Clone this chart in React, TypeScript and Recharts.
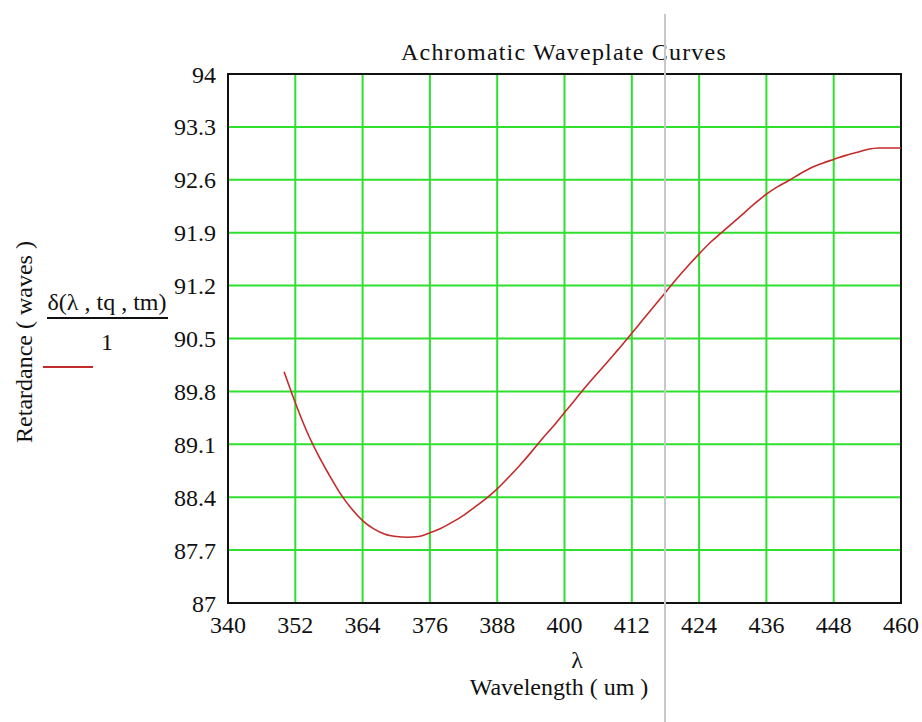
import { CartesianGrid, Line, LineChart, ReferenceArea, XAxis, YAxis } from 'recharts';

const wavelengths = [
  350, 352, 354, 356, 358, 360, 362, 364, 366, 368, 370, 372, 374, 376, 378, 380, 382, 384, 386, 388,
  390, 392, 394, 396, 398, 400, 402, 404, 406, 408, 410, 412, 414, 416, 418, 420, 422, 424, 426, 428,
  430, 432, 434, 436, 438, 440, 442, 444, 446, 448, 450, 452, 454, 456, 458, 460,
];
const retardance = [
  90.06, 89.65, 89.28, 88.97, 88.7, 88.45, 88.25, 88.09, 87.98, 87.91, 87.88, 87.87, 87.88, 87.93, 87.99,
  88.07, 88.16, 88.27, 88.38, 88.51, 88.66, 88.82, 88.99, 89.17, 89.34, 89.52, 89.7, 89.88, 90.05, 90.22,
  90.39, 90.57, 90.75, 90.93, 91.11, 91.29, 91.46, 91.62, 91.77, 91.9, 92.03, 92.16, 92.29, 92.41, 92.51,
  92.59, 92.68, 92.76, 92.82, 92.87, 92.92, 92.96, 93.0, 93.02, 93.02, 93.02,
];
const xTicks = [340, 352, 364, 376, 388, 400, 412, 424, 436, 448, 460];
const yTicks = [87, 87.7, 88.4, 89.1, 89.8, 90.5, 91.2, 91.9, 92.6, 93.3, 94];

const data = wavelengths.map((w, i) => ({ w, r: retardance[i] }));

const font = '"Liberation Serif", "Times New Roman", serif';
const green = '#2fe02f';

export default function App() {
  return (
    <div style={{ position: 'absolute', left: 0, top: 0, width: 922, height: 722, background: '#fff' }}>
      <LineChart width={922} height={722} data={data} margin={{ top: 74, right: 21, bottom: 69, left: 168 }}>
        <CartesianGrid stroke={green} strokeWidth={2} />
        <XAxis
          dataKey="w"
          type="number"
          domain={[340, 460]}
          ticks={xTicks}
          height={50}
          axisLine={false}
          tickLine={false}
          tickSize={0}
          tickMargin={13}
          tick={{ fill: '#111', fontSize: 24, fontFamily: font }}
        />
        <YAxis
          type="number"
          domain={[87, 94]}
          ticks={yTicks}
          width={60}
          axisLine={false}
          tickLine={false}
          tickSize={0}
          tickMargin={12}
          tick={{ fill: '#111', fontSize: 24, fontFamily: font }}
        />
        <ReferenceArea x1={340} x2={460} y1={87} y2={94} fill="none" stroke="#111" strokeWidth={2} />
        <Line
          type="monotone"
          dataKey="r"
          stroke="#c42b2b"
          strokeWidth={1.6}
          dot={false}
          isAnimationActive={false}
        />
      </LineChart>
      <svg
        width={922}
        height={722}
        style={{ position: 'absolute', left: 0, top: 0, pointerEvents: 'none' }}
        fontFamily={font}
        fill="#111"
      >
        <text x={564} y={60} fontSize={24} letterSpacing={1.2} textAnchor="middle">
          Achromatic Waveplate Curves
        </text>
        <text transform="translate(32,342) rotate(-90)" fontSize={24} textAnchor="middle">
          Retardance ( waves )
        </text>
        <text x={107} y={310} fontSize={24} textAnchor="middle">
          δ(λ , tq , tm)
        </text>
        <line x1={47} x2={168} y1={318} y2={318} stroke="#111" strokeWidth={2} />
        <text x={107} y={350} fontSize={24} textAnchor="middle">
          1
        </text>
        <line x1={43} x2={93} y1={367} y2={367} stroke="#c42b2b" strokeWidth={2} />
        <text x={577} y={668} fontSize={24} textAnchor="middle">
          λ
        </text>
        <text x={559} y={695} fontSize={24} textAnchor="middle">
          Wavelength ( um )
        </text>
        <line x1={665} x2={665} y1={14} y2={722} stroke="#c8c8c8" strokeWidth={2} />
      </svg>
    </div>
  );
}
